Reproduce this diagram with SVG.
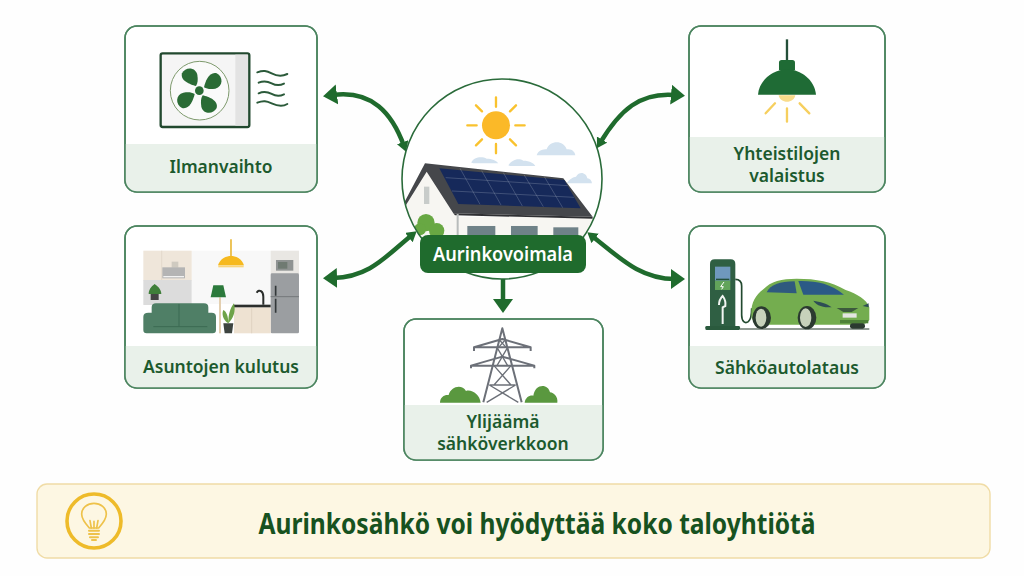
<svg xmlns="http://www.w3.org/2000/svg" width="1024" height="576" viewBox="0 0 1024 576">
<style>
.card{fill:#fff;stroke:#4c8560;stroke-width:1.6}
.band{fill:#e9f1ea}
.lbl{font-family:"Noto Sans","Open Sans",sans-serif;font-weight:600;fill:#1c5a2e;text-anchor:middle;font-size:18.5px}
.conn{fill:none;stroke:#1f6b2d;stroke-width:4.5}
.ray{stroke:#f9c22e;stroke-width:7;stroke-linecap:round;fill:none}
.lray{stroke:#f6cf5e;stroke-width:7;stroke-linecap:round;fill:none}
.wave{fill:none;stroke:#2b5a3a;stroke-width:6;stroke-linecap:round}
.py{fill:none;stroke:#6c7078;stroke-width:6;stroke-linejoin:round}
.py2{fill:none;stroke:#6c7078;stroke-width:4}
.bush{fill:#5a983f}
.blade{fill:#2a6b35}
.cloud{fill:#d3e2ef}
.pane{stroke:#cfd6e2;stroke-width:.7}
</style>
<defs>
<marker id="big" markerUnits="userSpaceOnUse" markerWidth="18" markerHeight="22" refX="4" refY="10" orient="auto-start-reverse"><path d="M0,0L14,10L0,20Z" fill="#1f6b2d"/></marker>
<marker id="small" markerUnits="userSpaceOnUse" markerWidth="14" markerHeight="14" refX="4" refY="6" orient="auto"><path d="M0,0L10,6L0,12Z" fill="#1f6b2d"/></marker>
<clipPath id="cc"><circle cx="502" cy="179" r="100"/></clipPath>
<clipPath id="c1"><rect x="125" y="26" width="192" height="166" rx="12"/></clipPath>
<clipPath id="c2"><rect x="689" y="26" width="196" height="166" rx="12"/></clipPath>
<clipPath id="c3"><rect x="125" y="226" width="192" height="162" rx="12"/></clipPath>
<clipPath id="c4"><rect x="689" y="226" width="196" height="162" rx="12"/></clipPath>
<clipPath id="c5"><rect x="404" y="319" width="199" height="141" rx="12"/></clipPath>
</defs>
<rect width="1024" height="576" fill="#fefefe"/>

<g id="connectors">
<path class="conn" d="M333,95C372,90 392,113 404,146" marker-start="url(#big)" marker-end="url(#small)"/>
<path class="conn" d="M675,95C640,92 620,110 600,143" marker-start="url(#big)" marker-end="url(#small)"/>
<path class="conn" d="M333,278C370,277 386,256 412,235" marker-start="url(#big)" marker-end="url(#small)"/>
<path class="conn" d="M675,279C640,279 620,258 592,236" marker-start="url(#big)" marker-end="url(#small)"/>
<path class="conn" d="M503,273L503,303" marker-end="url(#big)"/>
</g>

<g id="node-ilmanvaihto">
<rect class="card" x="125" y="26" width="192" height="166" rx="12"/>
<rect class="band" x="125" y="144" width="192" height="48" clip-path="url(#c1)"/>
<rect x="125" y="26" width="192" height="166" rx="12" fill="none" stroke="#4c8560" stroke-width="1.6"/>
<g transform="translate(120,20) scale(.3333)">
<rect x="122" y="100" width="266" height="221" rx="6" fill="#f5f5f5" stroke="#22492f" stroke-width="7"/>
<rect x="346" y="104" width="38" height="213" fill="#e3e3e3"/>
<circle cx="239" cy="212" r="88" fill="#fafafa" stroke="#7d9a6c" stroke-width="3"/>
<g transform="translate(238,212)">
<path class="blade" d="M-10,-14C-28,-18 -58,-30 -52,-52C-42,-72 -12,-72 -6,-48C-4,-34 -4,-24 -10,-14Z"/>
<path class="blade" transform="rotate(90)" d="M-10,-14C-28,-18 -58,-30 -52,-52C-42,-72 -12,-72 -6,-48C-4,-34 -4,-24 -10,-14Z"/>
<path class="blade" transform="rotate(180)" d="M-10,-14C-28,-18 -58,-30 -52,-52C-42,-72 -12,-72 -6,-48C-4,-34 -4,-24 -10,-14Z"/>
<path class="blade" transform="rotate(270)" d="M-10,-14C-28,-18 -58,-30 -52,-52C-42,-72 -12,-72 -6,-48C-4,-34 -4,-24 -10,-14Z"/>
<circle r="13" fill="#2a6b35"/>
</g>
<path class="wave" d="M412,157C430,150 440,152 455,160S485,170 502,162"/>
<path class="wave" d="M416,188C432,181 442,183 455,190S478,198 492,191"/>
<path class="wave" d="M416,220C432,213 442,215 455,222S478,230 492,223"/>
<path class="wave" d="M412,248C430,241 440,243 455,250S485,262 502,252"/>
</g>
<text class="lbl" x="221" y="173" textLength="103" lengthAdjust="spacingAndGlyphs">Ilmanvaihto</text>
</g>

<g id="node-valaistus">
<rect class="card" x="689" y="26" width="196" height="166" rx="12"/>
<rect class="band" x="689" y="137" width="196" height="55" clip-path="url(#c2)"/>
<rect x="689" y="26" width="196" height="166" rx="12" fill="none" stroke="#4c8560" stroke-width="1.6"/>
<g transform="translate(600,20) scale(.3333)">
<path d="M561,58V125" stroke="#24503a" stroke-width="7" fill="none"/>
<path d="M537,150V128Q537,120 545,120H577Q585,120 585,128V150Z" fill="#1f6b35"/>
<path d="M474,224C478,180 520,148 561,148C602,148 644,180 648,224Z" fill="#1f6b35"/>
<path d="M536,226C540,252 582,252 586,226Z" fill="#f9dc8b"/>
<path class="lray" d="M497,280L525,250M561,265V305M599,250L628,280"/>
</g>
<text class="lbl" style="font-size:17.5px"><tspan x="787" y="160">Yhteistilojen</tspan><tspan x="787" y="182">valaistus</tspan></text>
</g>

<g id="node-kulutus">
<rect class="card" x="125" y="226" width="192" height="162" rx="12"/>
<rect class="band" x="125" y="346" width="192" height="42" clip-path="url(#c3)"/>
<rect x="125" y="226" width="192" height="162" rx="12" fill="none" stroke="#4c8560" stroke-width="1.6"/>
<g transform="translate(120,220) scale(.3333)">
<rect x="215" y="92" width="237" height="160" fill="#f8f8f8"/>
<rect x="70" y="92" width="145" height="90" fill="#efe6da"/>
<path d="M125,92V180" stroke="#dcd2c4" stroke-width="2"/>
<rect x="70" y="180" width="145" height="75" fill="#dcdcdc"/>
<path d="M155,125h20v18h-20z" fill="#cfcac0"/>
<rect x="127" y="142" width="68" height="33" fill="#b4b4b4"/>
<rect x="130" y="168" width="62" height="4" fill="#f2f2f2"/>
<path d="M86,222C86,205 100,195 104,192C110,197 124,206 124,222Z" fill="#3f7f3a"/>
<rect x="92" y="222" width="24" height="18" fill="#444"/>
<rect x="452" y="92" width="85" height="70" fill="#e9e7e3"/>
<rect x="468" y="120" width="52" height="32" fill="#8f9392"/>
<rect x="474" y="126" width="28" height="20" fill="#6f7a72"/>
<rect x="452" y="160" width="85" height="180" rx="4" fill="#9b9ea1"/>
<path d="M452,230H537" stroke="#74777a" stroke-width="3"/>
<path d="M467,197V227M467,236V278" stroke="#33383a" stroke-width="5"/>
<rect x="342" y="262" width="110" height="78" fill="#eee2d2"/>
<path d="M395,265V340" stroke="#d9cdb9" stroke-width="2"/>
<rect x="340" y="254" width="112" height="8" fill="#2b2e2c"/>
<path d="M410,218C418,205 430,215 430,230V254" fill="none" stroke="#2b2e2c" stroke-width="6"/>
<rect x="297" y="232" width="6" height="108" fill="#e3cfb0"/>
<path d="M280,196H310L318,232H272Z" fill="#2c7a3c"/>
<path d="M333,58V110" stroke="#e9b93a" stroke-width="5"/>
<path d="M294,136C300,115 320,108 333,108C346,108 366,115 372,136Z" fill="#f6b91f"/>
<rect x="295" y="136" width="76" height="6" fill="#f9d57a"/>
<path d="M325,310C308,300 305,280 310,270C320,275 325,290 325,310ZM325,310C325,285 330,265 342,250C348,275 340,295 325,310Z" fill="#6ea349"/>
<path d="M310,310H340L336,340H314Z" fill="#3d4440"/>
<path d="M70,290Q70,278 85,278H95V262Q95,250 108,250H252Q265,250 265,262V278H275Q288,278 288,290V330Q288,340 278,340H80Q70,340 70,330Z" fill="#4f7f66"/>
<path d="M177,252V320M100,320H262" stroke="#3c6a52" stroke-width="3" fill="none"/>
</g>
<text class="lbl" x="221" y="373" textLength="156" lengthAdjust="spacingAndGlyphs">Asuntojen kulutus</text>
</g>

<g id="node-autolataus">
<rect class="card" x="689" y="226" width="196" height="162" rx="12"/>
<rect class="band" x="689" y="346" width="196" height="42" clip-path="url(#c4)"/>
<rect x="689" y="226" width="196" height="162" rx="12" fill="none" stroke="#4c8560" stroke-width="1.6"/>
<g transform="translate(680,220) scale(.3333)">
<path d="M180,327H568" stroke="#6c7a70" stroke-width="5"/>
<path d="M90,320V132Q90,118 104,118H152Q166,118 166,132V320Z" fill="#2f5f43"/>
<rect x="76" y="318" width="104" height="12" rx="4" fill="#2a5a3d"/>
<rect x="105" y="140" width="46" height="42" fill="#6f98bd"/>
<rect x="105" y="182" width="46" height="28" fill="#62a45a"/>
<path d="M108,178H148" stroke="#24503a" stroke-width="4"/>
<path d="M132,186L122,200H130L125,208" stroke="#fff" stroke-width="3" fill="none"/>
<path d="M117,255C117,240 124,232 128,228C134,236 138,245 136,258L128,262V312" stroke="#f2f5f2" stroke-width="6" fill="none"/>
<path d="M166,178C178,178 185,184 185,198V285C185,305 195,312 205,305C215,297 215,280 215,265" stroke="#22492f" stroke-width="5" fill="none"/>
<path d="M215,295C210,258 222,228 250,208C272,184 305,176 350,176C410,176 455,185 497,210C532,222 560,238 568,262V300Q562,312 540,314H250Q222,314 215,295Z" fill="#74ad4f"/>
<path d="M260,217C272,194 298,184 344,184L350,220Z" fill="#2f5a7e"/>
<path d="M355,183C410,182 450,190 492,224L370,224Z" fill="#2b5a86"/>
<path d="M400,242C420,245 440,250 455,262C430,262 410,258 400,242Z" fill="#2d4d55"/>
<path d="M470,264H535L515,276H490Z" fill="#3c5a3d"/>
<path d="M548,258L566,250V262Z" fill="#2d4d55"/>
<rect x="488" y="280" width="42" height="13" fill="#e4e6e0"/>
<path d="M480,305H565" stroke="#4e8238" stroke-width="10"/>
<ellipse cx="245" cy="293" rx="28" ry="34" fill="#2b3a30"/><ellipse cx="243" cy="293" rx="16" ry="27" fill="#c7d2bb"/>
<ellipse cx="381" cy="293" rx="28" ry="35" fill="#2b3a30"/><ellipse cx="377" cy="293" rx="17" ry="28" fill="#c7d2bb"/>
<rect x="510" y="310" width="45" height="16" rx="7" fill="#2b3a30"/>
</g>
<text class="lbl" x="787" y="374" textLength="144" lengthAdjust="spacingAndGlyphs">Sähköautolataus</text>
</g>

<g id="node-sahkoverkko">
<rect class="card" x="404" y="319" width="199" height="141" rx="12"/>
<rect class="band" x="404" y="405" width="199" height="55" clip-path="url(#c5)"/>
<rect x="404" y="319" width="199" height="141" rx="12" fill="none" stroke="#4c8560" stroke-width="1.6"/>
<g transform="translate(400,315) scale(.3333)">
<path class="py" d="M250,262L307,40L365,262M222,108V97L307,72L392,97V108M213,160V152L307,125L403,152V160M222,97H392M213,152H403"/>
<path class="py2" d="M291,97L323,152M323,97L291,152M296,72L318,97M318,72L296,97M282,152L333,210M333,152L282,210M268,210H347M268,210L355,262M347,210L260,262"/>
<path class="bush" d="M120,263C120,245 135,238 146,240C152,215 185,205 198,228C215,222 240,240 242,263Z"/>
<path class="bush" d="M374,263C376,248 388,240 400,242C405,205 445,205 450,232C462,232 475,248 472,263Z"/>
</g>
<text class="lbl" style="font-size:17.5px"><tspan x="503" y="428">Ylijäämä</tspan><tspan x="503" y="450">sähköverkkoon</tspan></text>
</g>

<g id="node-aurinkovoimala">
<circle cx="502" cy="179" r="100" fill="#fff"/>
<g clip-path="url(#cc)">
<g transform="translate(390,70) scale(.3333)">
<path class="ray" d="M318,82V110M318,222V250M232,166H260M376,166H404M258,106L276,124M378,106L360,124M258,226L276,208M378,226L360,208"/>
<circle cx="318" cy="166" r="42" fill="#fbb928"/>
<path class="cloud" d="M440,256C445,240 460,238 470,238C478,212 520,208 530,238C545,235 555,245 556,256Z"/>
<path class="cloud" d="M530,340C540,325 550,322 558,320C570,300 590,310 592,325C600,325 605,332 606,340Z"/>
<path class="cloud" d="M244,278C250,262 275,258 290,266C305,266 320,272 325,280H250Z"/>
<path class="cloud" d="M355,286C365,270 385,262 400,272C420,272 432,280 436,288H360Z"/>
<path d="M108,300L45,400V510H200V440Z" fill="#f7f6f2"/>
<rect x="190" y="440" width="420" height="70" fill="#f7f6f2"/>
<rect x="102" y="350" width="16" height="52" fill="#c8ccca"/>
<path d="M105,280L520,325L608,440L190,430L110,305L48,405L44,395Z" fill="#45474b"/>
<path d="M190,430L608,440V446L195,436Z" fill="#2f3033"/>
<path d="M148,295L523,330L572,415L205,402Z" fill="#16295a"/>
<g class="pane">
<path d="M167,323L533,347M186,363L552,382M210,295L270,403M275,302L333,405M340,308L397,408M402,314L460,410M463,320L518,413"/>
</g>
<rect x="200" y="432" width="6" height="65" fill="#b8bcbb"/>
<rect x="232" y="468" width="84" height="30" fill="#6f8288"/>
<rect x="363" y="468" width="80" height="30" fill="#6f8288"/>
<rect x="490" y="472" width="75" height="26" fill="#6f8288"/>
<circle cx="108" cy="458" r="26" fill="#68a843"/><circle cx="90" cy="478" r="18" fill="#68a843"/><circle cx="140" cy="482" r="23" fill="#68a843"/>
</g>
</g>
<circle cx="502" cy="179" r="100" fill="none" stroke="#2a6b3a" stroke-width="1.6"/>
<rect x="420" y="235" width="166" height="38" rx="8" fill="#1f6b2d"/>
<text x="503" y="261" textLength="140" lengthAdjust="spacingAndGlyphs" style="font-family:'Noto Sans','Open Sans',sans-serif;font-weight:600;font-size:19px;fill:#fff;text-anchor:middle">Aurinkovoimala</text>
</g>

<g id="node-banner">
<rect x="37" y="484" width="953" height="74" rx="10" fill="#fdf7e3" stroke="#f0dca6" stroke-width="1.4"/>
<circle cx="94" cy="521" r="27" fill="none" stroke="#eebb2a" stroke-width="3.6"/>
<g transform="translate(30,478) scale(.3333)" fill="none" stroke="#eec24a" stroke-width="5" stroke-linecap="round">
<path d="M178,150C160,130 155,118 155,108C155,90 172,76 192,76C212,76 229,90 229,108C229,118 224,130 206,150Z"/>
<path d="M184,150L180,128M200,150L204,128M192,150V130"/>
<path d="M177,158H207M177,168H207M180,178H204M186,186H198" stroke-width="6"/>
</g>
<text x="537" y="534" textLength="557" lengthAdjust="spacingAndGlyphs" style="font-family:'Noto Sans','Open Sans',sans-serif;font-weight:700;font-size:29px;fill:#17521f;text-anchor:middle">Aurinkosähkö voi hyödyttää koko taloyhtiötä</text>
</g>
</svg>
